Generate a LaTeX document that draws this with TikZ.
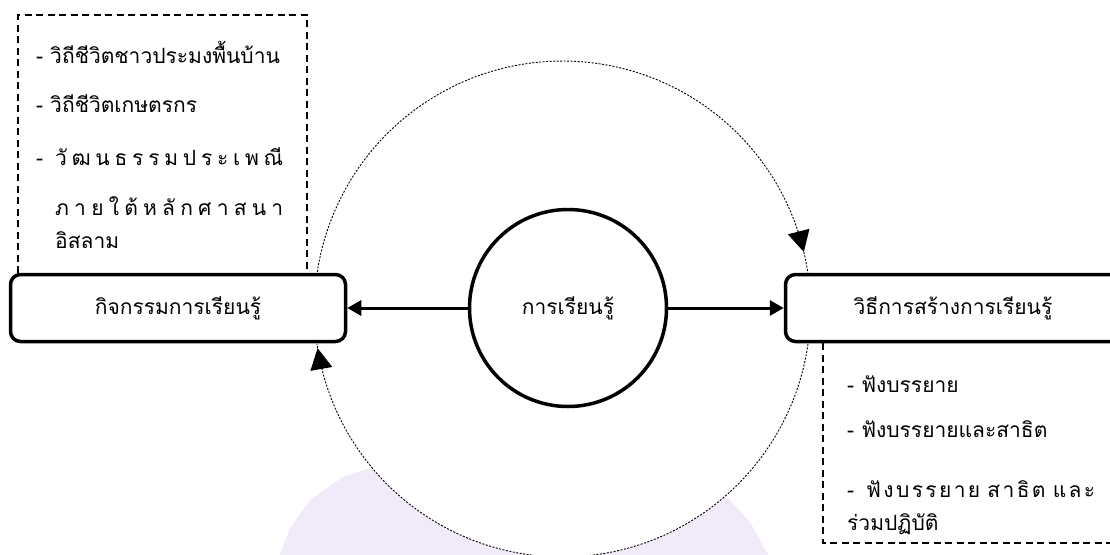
\documentclass[tikz,border=0pt]{standalone}
\usepackage{fontspec}
\newfontfamily\thai[Script=Thai]{Loma}
\usetikzlibrary{arrows.meta}
\definecolor{wmark}{RGB}{241,234,249}
\begin{document}
\begin{tikzpicture}[x=1pt,y=-1pt,
  rbox/.style={draw, line width=3.5pt, rounded corners=10pt, minimum width=335pt, minimum height=67pt, inner sep=0pt, font=\thai\fontsize{21}{25}\selectfont},
  hub/.style={draw, circle, line width=3.5pt, minimum size=197pt, inner sep=0pt, font=\thai\fontsize{21}{25}\selectfont},
  conn/.style={line width=3pt, -{Triangle[length=14pt,width=15pt]}},
  frame/.style={line width=2pt, dash pattern=on 7pt off 4.5pt},
  loopline/.style={line width=0.9pt, dash pattern=on 2pt off 1.5pt},
  looptip/.style={-{Triangle[length=21pt,width=22pt]}},
  item/.style={anchor=base west, inner sep=0pt, font=\thai\fontsize{21}{25}\selectfont}]
\useasboundingbox (0,0) rectangle (1110,554);
\clip (0,0) rectangle (1110,554);
% faint watermark
\fill[wmark] (278,560) -- (290,528) -- (310,500) -- (343,477) -- (367,469) -- (420,468) -- (560,440) -- (700,488) -- (727,497) -- (750,522) -- (771,560) -- cycle;
\fill[white] (562.5,309) circle[radius=248];
% dashed frames
\draw[frame] (18,273) -- (18,15) -- (307,15) -- (307,273);
\draw[frame] (823,343) -- (823,543) -- (1115,543);
% dotted loop arcs
\draw[loopline, looptip] plot[domain=188.6:346.7, samples=80] ({562.5+248*cos(\x)},{309+248*sin(\x)});
\draw[loopline] plot[domain=346.7:351.7, samples=5] ({562.5+248*cos(\x)},{309+248*sin(\x)});
\draw[loopline, looptip] plot[domain=8.1:170.9, samples=80] ({562.5+248*cos(\x)},{309+248*sin(\x)});
\draw[loopline] plot[domain=170.9:171.9, samples=3] ({562.5+248*cos(\x)},{309+248*sin(\x)});
% main nodes
\node[rbox, fill=white] (act) at (178,308) {กิจกรรมการเรียนรู้};
\node[rbox, fill=white] (how) at (953,308) {วิธีการสร้างการเรียนรู้};
\node[hub] (learn) at (568,308) {การเรียนรู้};
\draw[conn] (learn) -- (act);
\draw[conn] (learn) -- (how);
% left list
\node[item] (l1) at (36,63) {- วิถีชีวิตชาวประมงพื้นบ้าน};
\node[item] (l2) at (36,112) {- วิถีชีวิตเกษตรกร};
\node[item] (l3) at (36,165) {-};
\node[item] (l3b) at (55,165) {\makebox[228pt][s]{วั\hfill ฒ\hfill น\hfill ธ\hfill ร\hfill ร\hfill ม\hfill ป\hfill ร\hfill ะ\hfill เ\hfill พ\hfill ณี}};
\node[item] (l4) at (55,215) {\makebox[228pt][s]{ภ\hfill า\hfill ย\hfill ใ\hfill ต้\hfill ห\hfill ลั\hfill ก\hfill ศ\hfill า\hfill ส\hfill น\hfill า}};
\node[item] (l5) at (55,248) {อิสลาม};
% right list
\node[item] (r1) at (847,392) {- ฟังบรรยาย};
\node[item] (r2) at (847,437) {- ฟังบรรยายและสาธิต};
\node[item] (r3) at (847,497) {-};
\node[item] (r3b) at (866,497) {\makebox[229pt][s]{ฟั\hfill ง\hfill บ\hfill ร\hfill ร\hfill ย\hfill า\hfill ย\hfill\hfill\hfill ส\hfill า\hfill ธิ\hfill ต\hfill\hfill\hfill แ\hfill ล\hfill ะ}};
\node[item] (r4) at (847,530) {ร่วมปฏิบัติ};
\end{tikzpicture}
\end{document}
